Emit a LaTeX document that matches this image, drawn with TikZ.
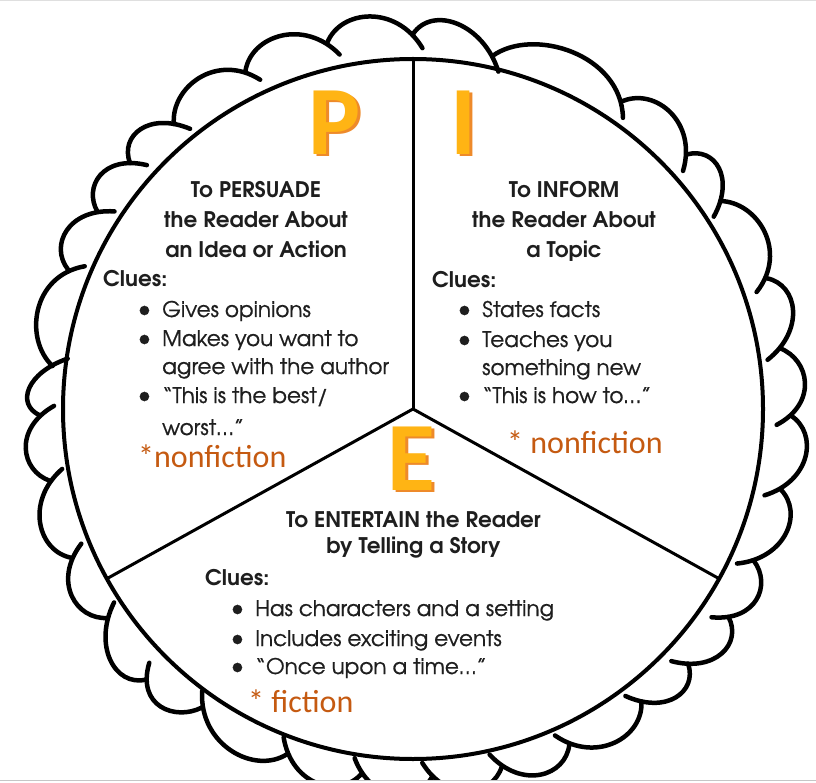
\documentclass[tikz,border=0pt]{standalone}
\usepackage{fontspec}
\setmainfont{TeX Gyre Adventor}
\newfontfamily\bodyfont{TeX Gyre Adventor}[FakeBold=0.7]
\newfontfamily\calfont{Carlito}
\definecolor{txt}{HTML}{1E1E1E}
\definecolor{nfor}{HTML}{C55A11}
\definecolor{pieor}{HTML}{EE8A2A}
\definecolor{pieye}{HTML}{FFB414}
\newcommand{\bul}{\llap{{\fontsize{26}{26}\selectfont\textbullet}\hspace{11pt}}}
\begin{document}
\begin{tikzpicture}[x=1pt,y=-1pt,
  head/.style={font=\fontsize{21.5}{24}\selectfont\bfseries, text=txt, anchor=base, inner sep=0pt},
  clue/.style={font=\fontsize{21.5}{24}\selectfont\bfseries, text=txt, anchor=base west, inner sep=0pt},
  body/.style={font=\bodyfont\fontsize{21.5}{24}\selectfont, text=txt, anchor=base west, inner sep=0pt},
  note/.style={font=\calfont\fontsize{32}{34}\selectfont, text=nfor, anchor=base west, inner sep=0pt},
  bigshadow/.style={font=\calfont\bfseries\fontsize{98}{98}\selectfont, text=pieor, anchor=base west, inner sep=0pt},
  bigletter/.style={font=\calfont\bfseries\fontsize{98}{98}\selectfont, text=pieye, anchor=base west, inner sep=0pt},
  crust/.style={line width=4.5pt, line cap=round, line join=round},
  spoke/.style={line width=3pt}]
\useasboundingbox (0,0) rectangle (816,783);
\fill[white] (0,0) rectangle (816,783);
% scalloped crust
\begin{scope}
\clip (0,1.5) rectangle (816,779.5);
\begin{scope}[shift={(413,409)}, yscale=-1]
\foreach \a/\r [remember=\a as \pa (initially -1), remember=\r as \pr (initially 378)] in
 {9.4/372, 20.3/377, 34.1/371, 42.9/374, 55.7/373, 77.3/362, 90/375, 103.2/376, 116.4/377, 130/372,
  139/375, 148/372, 158/372, 173.2/363, 181/373, 191.2/370, 203.6/372, 214.4/370, 225.4/380, 234.7/366,
  250/367, 262/368, 273/368, 284/368, 295/370, 308/371, 317.2/375, 326.6/378, 336/373, 347.7/376, 359/378}
{
  \pgfmathsetmacro\sp{\a-\pa}
  \pgfmathsetmacro\k{29+1.0*(\sp-12)}
  \draw[crust] ({\pa-1.5}:{\pr-14}) .. controls ({\pa+0.18*\sp}:{\pr+\k}) and ({\a-0.22*\sp}:{\r+\k}) .. (\a:\r);
}
\end{scope}
\end{scope}
\draw[gray!45, line width=1.5pt] (0,780.5) -- (816,780.5);
\draw[gray!25, line width=1pt] (0,0.8) -- (816,0.8);
% pie
\node[circle, draw, line width=4pt, minimum size=700pt, inner sep=0pt, outer sep=0pt] (pie) at (413,409) {};
\coordinate (hub) at (pie.center);
\draw[spoke] (hub) -- (pie.90);
\draw[spoke] (hub) -- (pie.209.4);
\draw[spoke] (hub) -- (pie.-29.4);
% big letters
\node[bigshadow] (Ps) at (311,157) {P};
\node[bigletter] (P) at (308,155) {P};
\node[bigshadow] (Is) at (453,157) {I};
\node[bigletter] (I) at (450,155) {I};
\node[bigshadow] (Es) at (390,492) {E};
\node[bigletter] (E) at (387,490) {E};
% persuade
\node[head] (p1) at (256,198) {To PERSUADE};
\node[head] (p2) at (256,228) {the Reader About};
\node[head] (p3) at (256,258) {an Idea or Action};
\node[clue] (p4) at (103,287) {Clues:};
\node[body] (p5) at (162,317) {\bul Gives opinions};
\node[body] (p6) at (162,346) {\bul Makes you want to};
\node[body] (p7) at (162,374) {agree with the author};
\node[body] (p8) at (162,403) {\bul “This is the best/};
\node[body] (p9) at (162,435) {worst…”};
\node[note] (p10) at (138,467) {*nonfiction};
% inform
\node[head] (i1) at (564,198) {To INFORM};
\node[head] (i2) at (564,228) {the Reader About};
\node[head] (i3) at (564,258) {a Topic};
\node[clue] (i4) at (432,288) {Clues:};
\node[body] (i5) at (482,317) {\bul States facts};
\node[body] (i6) at (482,347) {\bul Teaches you};
\node[body] (i7) at (482,375) {something new};
\node[body] (i8) at (482,403) {\bul “This is how to…”};
\node[note] (i9) at (507,453) {* nonfiction};
% entertain
\node[head] (e1) at (413.5,527) {To ENTERTAIN the Reader};
\node[head] (e2) at (413.5,553) {by Telling a Story};
\node[clue] (e3) at (205,585) {Clues:};
\node[body] (e4) at (255,616) {\bul Has characters and a setting};
\node[body] (e5) at (255,646) {\bul Includes exciting events};
\node[body] (e6) at (255,674) {\bul “Once upon a time…”};
\node[note] (e7) at (248,712) {* fiction};
\end{tikzpicture}
\end{document}
